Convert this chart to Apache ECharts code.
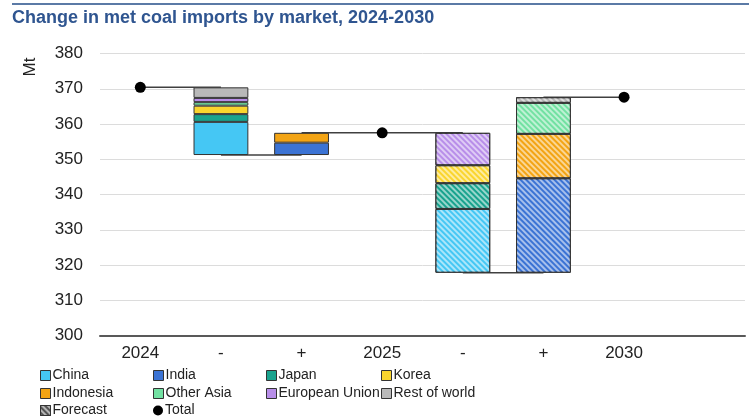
<!DOCTYPE html>
<html>
<head>
<meta charset="utf-8">
<script src="https://cdn.jsdelivr.net/npm/echarts@6/dist/echarts.min.js"></script>
<style>
  html, body { margin: 0; padding: 0; background: #fff; }
  #chart { width: 749px; height: 417px; }
</style>
</head>
<body>
<div id="chart"></div>
<script>
// Waterfall steps: totals for the years, signed changes for the "-" / "+" columns
const categories = ['2024', '-', '+', '2025', '-', '+', '2030', ''];
const totals = [370.4, null, null, 357.5, null, null, 367.6, null];
const china = [null, -9.4, null, null, -18.1, null, null, null];
const india = [null, null, 3.5, null, null, 26.8, null, null];
const japan = [null, -2.2, null, null, -7.3, null, null, null];
const korea = [null, -2.4, null, null, -5.1, null, null, null];
const indonesia = [null, null, 2.8, null, null, 12.6, null, null];
const otherAsia = [null, -1.0, null, null, null, 8.8, null, null];
const europeanUnion = [null, -1.2, null, null, -9.2, null, null, null];
const restOfWorld = [null, -3.0, null, null, null, 1.6, null, null];
const isForecast = [false, false, false, false, true, true, true, false];
const yMin = 300, yMax = 380, yStep = 10;

const markets = [
  { name: 'China', values: china, color: '#45c7f4' },
  { name: 'India', values: india, color: '#3b73d4' },
  { name: 'Japan', values: japan, color: '#19a38e' },
  { name: 'Korea', values: korea, color: '#fad52e' },
  { name: 'Indonesia', values: indonesia, color: '#f3a414' },
  { name: 'Other Asia', values: otherAsia, color: '#72e1a2' },
  { name: 'European Union', values: europeanUnion, color: '#b88ee9' },
  { name: 'Rest of world', values: restOfWorld, color: '#b9b9b9' }
];

// Invisible base under each change column, and the level each column ends at
const base = [];
const levelAfter = [];
let level = null;
categories.forEach((c, i) => {
  if (totals[i] != null) {
    level = totals[i];
    base.push(null);
  } else {
    const sum = markets.reduce((s, m) => s + (m.values[i] || 0), 0);
    if (sum < 0) {
      level = level + sum;
      base.push(level);
    } else if (sum > 0) {
      base.push(level);
      level = level + sum;
    } else {
      base.push(null);
      level = null;
    }
  }
  levelAfter.push(level);
});

const connectors = [];
for (let i = 0; i < categories.length - 1; i++) {
  if (levelAfter[i] != null && levelAfter[i + 1] != null) {
    connectors.push([i, levelAfter[i]]);
  }
}

const hatch = {
  symbol: 'rect',
  symbolSize: 1,
  dashArrayX: [1, 0],
  dashArrayY: [1.5, 1.8],
  rotation: Math.PI / 4,
  color: 'rgba(255,255,255,0.55)'
};

const FONT = '"Liberation Sans", Arial, sans-serif';
const BORDER = '#333';
const BAR_WIDTH = '68%';

const series = [
  {
    name: 'base',
    type: 'bar',
    stack: 'w',
    barWidth: BAR_WIDTH,
    silent: true,
    itemStyle: { color: 'rgba(0,0,0,0)' },
    data: base.map(v => (v == null ? '-' : v)),
    z: 1
  }
];
markets.forEach(m => {
  series.push({
    name: m.name,
    type: 'bar',
    stack: 'w',
    barWidth: BAR_WIDTH,
    itemStyle: { color: m.color, borderColor: BORDER, borderWidth: 1 },
    data: m.values.map((v, i) => {
      if (v == null) return '-';
      const item = { value: Math.abs(v) };
      if (isForecast[i]) item.itemStyle = { decal: hatch };
      return item;
    }),
    z: 3
  });
});
// Legend entry for the hatched forecast styling (no bars of its own)
series.push({
  name: 'Forecast',
  type: 'bar',
  stack: 'w',
  barWidth: BAR_WIDTH,
  itemStyle: {
    color: '#b5b5b5', borderColor: BORDER, borderWidth: 1,
    decal: Object.assign({}, hatch, { color: 'rgba(60,60,60,0.8)', dashArrayY: [1.2, 2] })
  },
  data: []
});
series.push({
  name: 'connector',
  type: 'custom',
  silent: true,
  z: 2,
  data: connectors,
  renderItem: (params, api) => {
    const p0 = api.coord([api.value(0), api.value(1)]);
    const p1 = api.coord([api.value(0) + 1, api.value(1)]);
    return {
      type: 'line',
      shape: { x1: p0[0], y1: p0[1], x2: p1[0], y2: p1[1] },
      style: { stroke: '#404040', lineWidth: 1.5 }
    };
  }
});
series.push({
  name: 'Total',
  type: 'scatter',
  symbol: 'circle',
  symbolSize: 11,
  itemStyle: { color: '#000', opacity: 1 },
  data: totals.map(v => (v == null ? '-' : v)),
  z: 5
});

// Legend laid out as a 4-column grid, one small legend per entry
const legendColumnsX = [40, 153, 266, 381];
const legendRowsY = [368.5, 386.5, 403.5];
const legendEntries = [
  ['China', 0, 0], ['India', 1, 0], ['Japan', 2, 0], ['Korea', 3, 0],
  ['Indonesia', 0, 1], ['Other Asia', 1, 1], ['European Union', 2, 1], ['Rest of world', 3, 1],
  ['Forecast', 0, 2], ['Total', 1, 2]
];
const legends = legendEntries.map(([name, col, row]) => ({
  orient: 'horizontal',
  left: legendColumnsX[col],
  top: legendRowsY[row],
  padding: 0,
  itemWidth: 10,
  itemHeight: 10,
  selectedMode: false,
  icon: name === 'Total' ? 'circle' : 'rect',
  itemStyle: name === 'Total' ? { borderWidth: 0, opacity: 1 } : { borderColor: BORDER, borderWidth: 1 },
  textStyle: { fontFamily: FONT, fontSize: 14, color: '#222', padding: [0, 0, 0, -3] },
  data: [name]
}));

const chart = echarts.init(document.getElementById('chart'), null, { renderer: 'canvas' });
chart.setOption({
  animation: false,
  backgroundColor: '#fff',
  title: {
    text: 'Change in met coal imports by market, 2024-2030',
    left: 12,
    top: 9,
    padding: 0,
    textStyle: { fontFamily: FONT, fontSize: 18, fontWeight: 'bold', color: '#2f5590' }
  },
  graphic: [
    {
      type: 'line',
      shape: { x1: 12, y1: 4, x2: 749, y2: 4 },
      style: { stroke: '#5b7aa6', lineWidth: 2 }
    },
    {
      type: 'text',
      x: 30,
      y: 67,
      rotation: Math.PI / 2,
      style: {
        text: 'Mt', fontFamily: FONT, fontSize: 17, fill: '#222',
        align: 'center', verticalAlign: 'middle'
      }
    }
  ],
  legend: legends,
  grid: { left: 100, right: 4, top: 53.5, bottom: 81.5, containLabel: false },
  xAxis: {
    type: 'category',
    data: categories,
    boundaryGap: true,
    axisLine: { lineStyle: { color: '#595959', width: 2 } },
    axisTick: { show: false },
    axisLabel: { fontFamily: FONT, fontSize: 17, color: '#222', margin: 9, interval: 0 }
  },
  yAxis: {
    type: 'value',
    min: yMin,
    max: yMax,
    interval: yStep,
    axisLine: { show: false },
    axisTick: { show: false },
    splitLine: { lineStyle: { color: '#dcdcdc', width: 1 } },
    axisLabel: { fontFamily: FONT, fontSize: 17, color: '#222', margin: 17 }
  },
  series: series
});
</script>
</body>
</html>
